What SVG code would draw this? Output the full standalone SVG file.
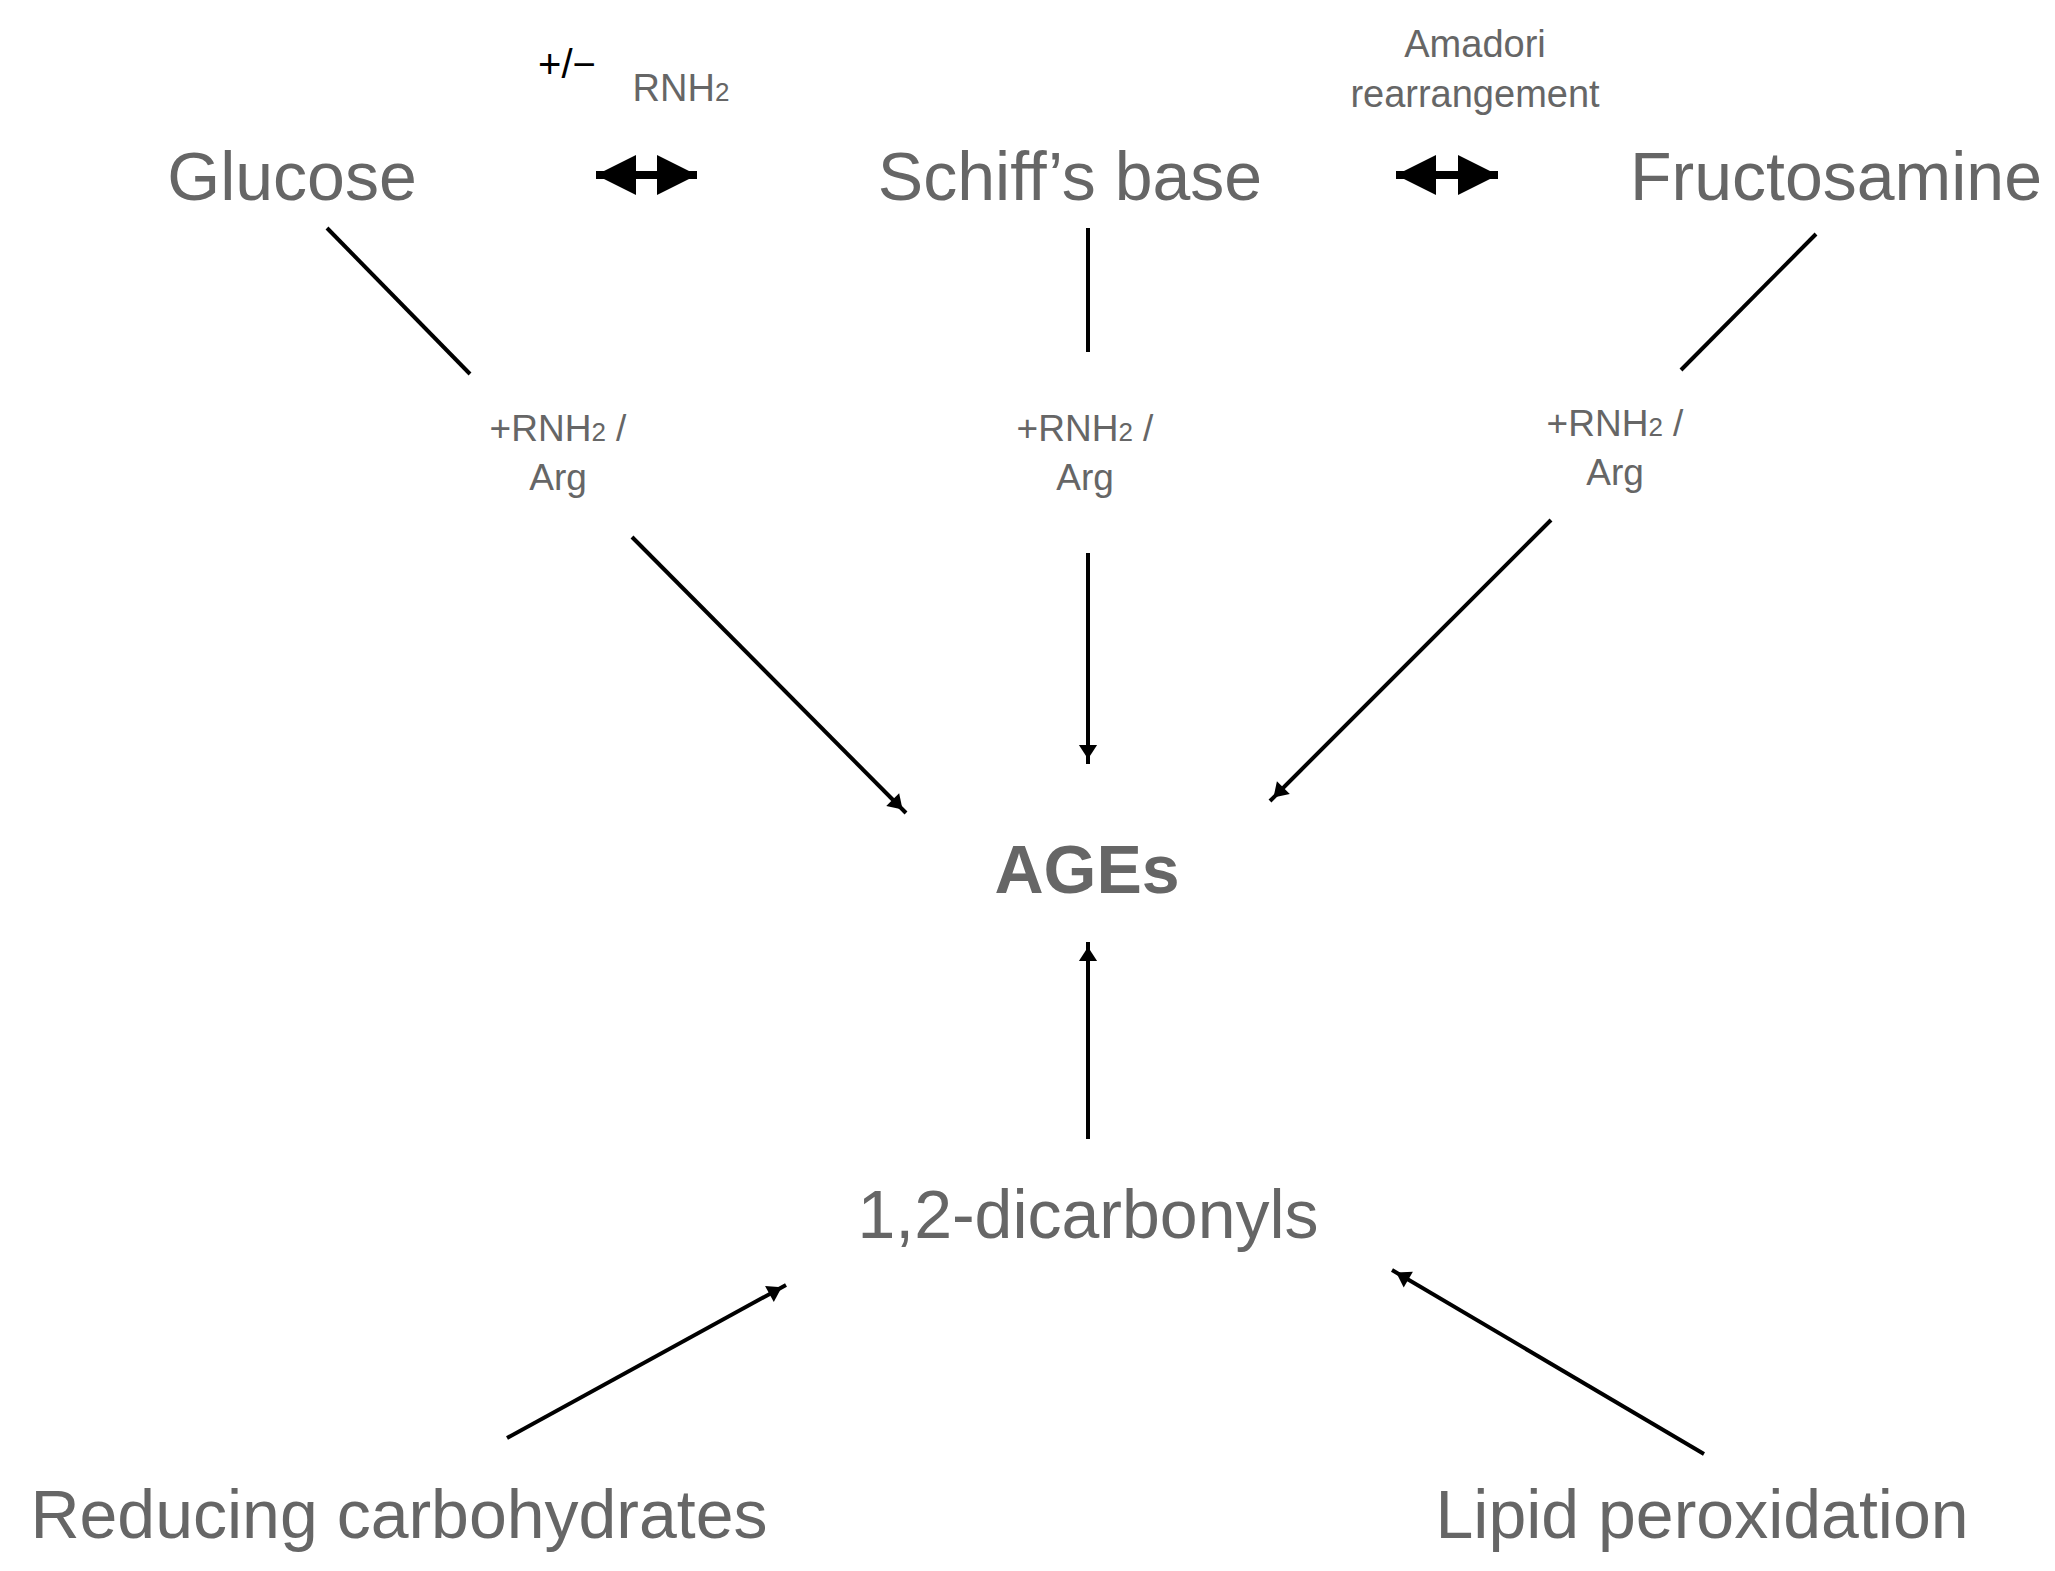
<svg xmlns="http://www.w3.org/2000/svg" width="2055" height="1571" viewBox="0 0 2055 1571">
<style>
text{font-family:"Liberation Sans",Arial,sans-serif;fill:#666;text-anchor:middle}
.big{font-size:68px}
.sm{font-size:38px}
.lbl{font-size:37px}
.ln{stroke:#000;stroke-width:4;fill:none}
.ar{stroke:#000;stroke-width:4;fill:none;marker-end:url(#ah)}
.dbl{stroke:#000;stroke-width:8;fill:none;marker-end:url(#bh);marker-start:url(#bhs)}
</style>
<defs>
<marker id="ah" viewBox="0 0 10 10" refX="9" refY="5" markerWidth="7" markerHeight="7" markerUnits="userSpaceOnUse" orient="auto" style="overflow:visible"><path d="M-18,-8 L2,5 L-18,18 Z" fill="#000" transform="translate(0,0)"/></marker>
<marker id="bh" viewBox="0 0 10 10" refX="10" refY="5" markerWidth="40" markerHeight="56" markerUnits="userSpaceOnUse" orient="auto"><path d="M0,0 L10,5 L0,10 Z" fill="#000"/></marker>
<marker id="bhs" viewBox="0 0 10 10" refX="0" refY="5" markerWidth="40" markerHeight="56" markerUnits="userSpaceOnUse" orient="auto"><path d="M10,0 L0,5 L10,10 Z" fill="#000"/></marker>
</defs>
<g id="glucose"><text class="big" x="292" y="200">Glucose</text></g>
<g id="schiff"><text class="big" x="1070" y="200">Schiff’s base</text></g>
<g id="fructosamine"><text class="big" x="1836" y="200">Fructosamine</text></g>
<g id="ages"><text class="big" x="1087" y="893" style="font-weight:bold">AGEs</text></g>
<g id="dicarbonyls"><text class="big" x="1088" y="1238">1,2-dicarbonyls</text></g>
<g id="reducing"><text class="big" x="399" y="1538">Reducing carbohydrates</text></g>
<g id="lipid"><text class="big" x="1702" y="1538">Lipid peroxidation</text></g>
<g id="labels">
<text x="567" y="78" style="font-size:40px;fill:#000">+/−</text>
<text class="sm" x="681" y="101">RNH<tspan font-size="26">2</tspan></text>
<text class="sm" x="1475" y="57">Amadori</text>
<text class="sm" x="1475" y="107">rearrangement</text>
<text class="lbl" x="558" y="441">+RNH<tspan font-size="26">2</tspan> /</text>
<text class="lbl" x="558" y="490">Arg</text>
<text class="lbl" x="1085" y="441">+RNH<tspan font-size="26">2</tspan> /</text>
<text class="lbl" x="1085" y="490">Arg</text>
<text class="lbl" x="1615" y="436">+RNH<tspan font-size="26">2</tspan> /</text>
<text class="lbl" x="1615" y="485">Arg</text>
</g>
<g id="connectors">
<line class="dbl" x1="596" y1="175" x2="697" y2="175"/>
<line class="dbl" x1="1396" y1="175" x2="1498" y2="175"/>
<line class="ln" x1="327" y1="228" x2="470" y2="374"/>
<line class="ar" x1="632" y1="537" x2="906" y2="813"/>
<line class="ln" x1="1088" y1="228" x2="1088" y2="352"/>
<line class="ar" x1="1088" y1="553" x2="1088" y2="764"/>
<line class="ln" x1="1816" y1="234" x2="1681" y2="370"/>
<line class="ar" x1="1551" y1="520" x2="1270" y2="801"/>
<line class="ar" x1="1088" y1="1139" x2="1088" y2="942"/>
<line class="ar" x1="507" y1="1438" x2="786" y2="1285"/>
<line class="ar" x1="1704" y1="1454" x2="1392" y2="1270"/>
</g>
</svg>
